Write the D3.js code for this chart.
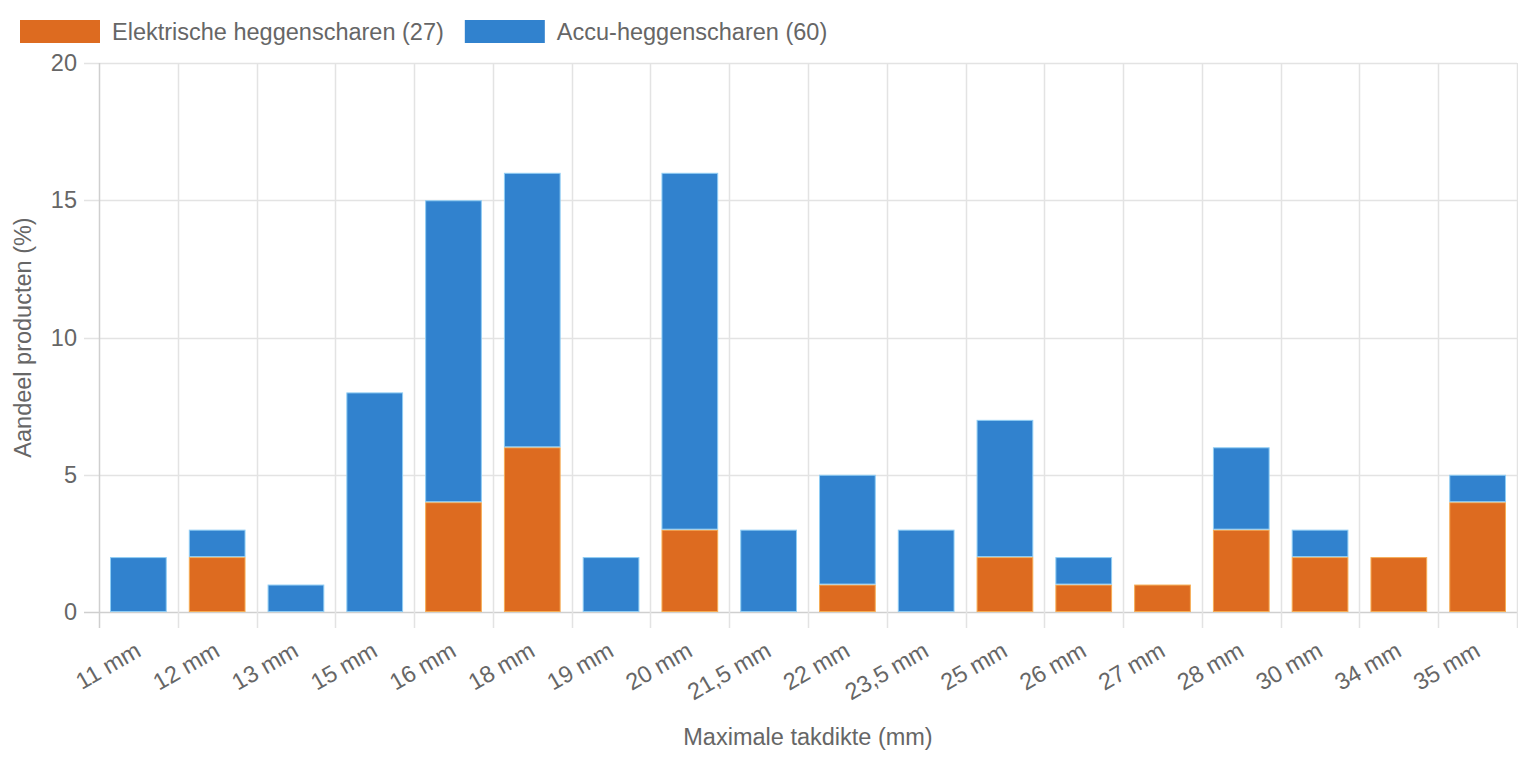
<!DOCTYPE html>
<html>
<head>
<meta charset="utf-8">
<script src="https://cdn.jsdelivr.net/npm/d3@7"></script>
<style>
  html, body { margin: 0; padding: 0; background: #fff; }
  svg { display: block; font-family: "Liberation Sans", Arial, Helvetica, sans-serif; }
</style>
</head>
<body>
<div id="chart"></div>
<script>
'use strict';

// categories (maximum branch thickness)
var categories = ['11 mm', '12 mm', '13 mm', '15 mm', '16 mm', '18 mm', '19 mm', '20 mm', '21,5 mm',
  '22 mm', '23,5 mm', '25 mm', '26 mm', '27 mm', '28 mm', '30 mm', '34 mm', '35 mm'];

// share of products (%) per series
var elektrisch = [0, 2, 0, 0, 4, 6, 0, 3, 0, 1, 0, 2, 1, 1, 3, 2, 2, 4];
var accu       = [2, 1, 1, 8, 11, 10, 2, 13, 3, 4, 3, 5, 1, 0, 3, 1, 0, 1];

var seriesNames = ['Elektrische heggenscharen (27)', 'Accu-heggenscharen (60)'];
var yTicks = [0, 5, 10, 15, 20];

var width = 1518, height = 758;
var margin = {top: 63, right: 1, bottom: 146, left: 99};
var colors = ['#DD6B20', '#3182CE'];
var borders = ['#F6AD55', '#90CDF4'];
var fontSize = '23.5px';

var svg = d3.select('#chart').append('svg')
    .attr('width', width)
    .attr('height', height);

var x = d3.scaleBand()
    .domain(categories)
    .range([margin.left, width - margin.right])
    .paddingInner(0.28)
    .paddingOuter(0.14);

var xStep = d3.scaleBand().domain(categories).range([margin.left, width - margin.right]);

var y = d3.scaleLinear()
    .domain([0, 20])
    .range([height - margin.bottom, margin.top]);

var y0 = y(0);

// horizontal grid
svg.append('g').selectAll('line')
    .data(yTicks)
  .enter().append('line')
    .attr('x1', margin.left - 15)
    .attr('x2', width - margin.right)
    .attr('y1', function(d) { return Math.round(y(d)) + 0.5; })
    .attr('y2', function(d) { return Math.round(y(d)) + 0.5; })
    .attr('stroke', function(d) { return d === 0 ? '#cfcfcf' : '#e3e3e3'; })
    .attr('stroke-width', 1.5);

// vertical grid (category boundaries)
var bounds = categories.map(function(c) { return xStep(c); }).concat([width - margin.right]);
svg.append('g').selectAll('line')
    .data(bounds)
  .enter().append('line')
    .attr('x1', function(d) { return Math.round(d) + 0.5; })
    .attr('x2', function(d) { return Math.round(d) + 0.5; })
    .attr('y1', margin.top)
    .attr('y2', y0 + 16)
    .attr('stroke', function(d, i) { return i === 0 ? '#cfcfcf' : '#e3e3e3'; })
    .attr('stroke-width', 1.5);

// stacked bars
var stacked = categories.map(function(c, i) {
  return [
    {cat: c, s: 0, lo: 0, hi: elektrisch[i]},
    {cat: c, s: 1, lo: elektrisch[i], hi: elektrisch[i] + accu[i]}
  ];
});
var bars = [];
stacked.forEach(function(d) { bars.push(d[0], d[1]); });

svg.append('g').selectAll('rect')
    .data(bars.filter(function(d) { return d.hi > d.lo; }))
  .enter().append('rect')
    .attr('x', function(d) { return x(d.cat) + 0.5; })
    .attr('y', function(d) { return y(d.hi) + 0.5; })
    .attr('width', x.bandwidth() - 1)
    .attr('height', function(d) { return y(d.lo) - y(d.hi) - 1; })
    .attr('fill', function(d) { return colors[d.s]; })
    .attr('stroke', function(d) { return borders[d.s]; })
    .attr('stroke-width', 1);

// y tick labels
svg.append('g').selectAll('text')
    .data(yTicks)
  .enter().append('text')
    .attr('x', 77)
    .attr('y', function(d) { return y(d); })
    .attr('dy', '0.35em')
    .attr('text-anchor', 'end')
    .attr('fill', '#666')
    .style('font-size', fontSize)
    .text(function(d) { return d; });

// x tick labels
svg.append('g').selectAll('text')
    .data(categories)
  .enter().append('text')
    .attr('transform', function(d) {
      return 'translate(' + (xStep(d) + xStep.bandwidth() / 2) + ',' + (y0 + 36) + ') rotate(-30)';
    })
    .attr('text-anchor', 'end')
    .attr('dy', '0.35em')
    .attr('fill', '#666')
    .style('font-size', fontSize)
    .text(function(d) { return d; });

// axis titles
svg.append('text')
    .attr('x', (margin.left + width - margin.right) / 2)
    .attr('y', 745)
    .attr('text-anchor', 'middle')
    .attr('fill', '#666')
    .style('font-size', fontSize)
    .text('Maximale takdikte (mm)');

svg.append('text')
    .attr('transform', 'translate(31,' + ((margin.top + y0) / 2) + ') rotate(-90)')
    .attr('text-anchor', 'middle')
    .attr('fill', '#666')
    .style('font-size', fontSize)
    .text('Aandeel producten (%)');

// legend
var legend = svg.append('g');
var lx = 20;
seriesNames.forEach(function(name, i) {
  legend.append('rect')
      .attr('x', lx)
      .attr('y', 20)
      .attr('width', 80)
      .attr('height', 23)
      .attr('fill', colors[i]);
  var t = legend.append('text')
      .attr('x', lx + 92)
      .attr('y', 32)
      .attr('dy', '0.35em')
      .attr('fill', '#666')
      .style('font-size', fontSize)
      .text(name);
  lx = lx + 92 + t.node().getComputedTextLength() + 21;
});
</script>
</body>
</html>
